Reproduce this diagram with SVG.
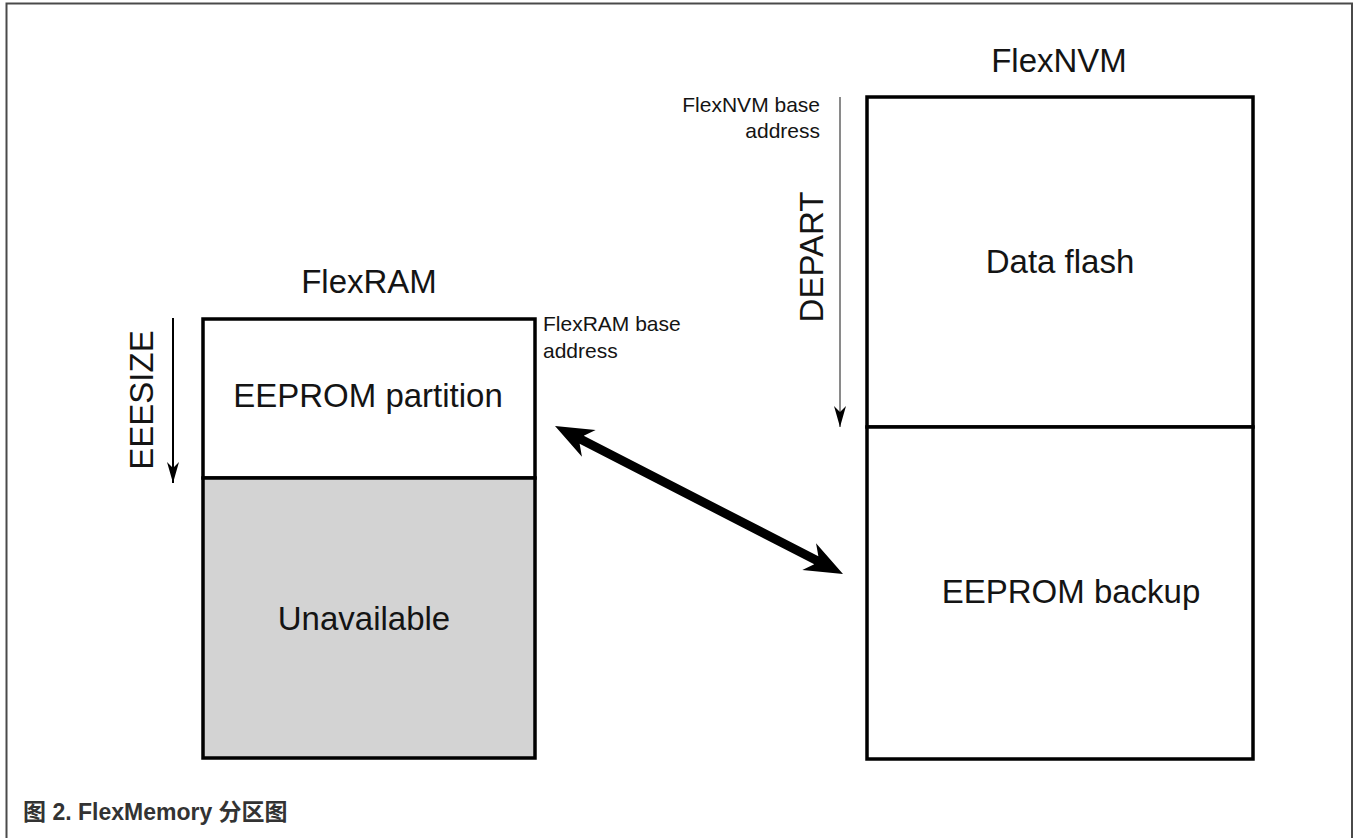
<svg xmlns="http://www.w3.org/2000/svg" width="1354" height="838" viewBox="0 0 1354 838">
  <style>
    .box { fill: #ffffff; stroke: #000000; stroke-width: 3.5; }
    .grey { fill: #d3d3d3; }
    .big { font-family: "Liberation Sans", Arial, sans-serif; font-size: 33px; fill: #141414; }
    .small { font-family: "Liberation Sans", Arial, sans-serif; font-size: 21px; fill: #141414; }
    .caption { font-family: "Liberation Sans", "Noto Sans CJK SC", sans-serif; font-size: 23px; font-weight: bold; fill: #333333; }
    .thin { stroke-width: 2; fill: none; }
  </style>
  <defs>
    <!-- slim notched arrowhead, tip at the line end -->
    <marker id="thinHead" viewBox="-22 -7 23 14" refX="0" refY="0" markerWidth="23" markerHeight="14" markerUnits="userSpaceOnUse" orient="auto">
      <path d="M0,0 L-21,-6 L-15,0 L-21,6 Z" fill="#000000"/>
    </marker>
  </defs>

  <rect width="1354" height="838" fill="#ffffff"/>

  <!-- figure frame (open at the bottom) -->
  <path d="M6.5,840 V3.5 H1352 V840" fill="none" stroke="#4a4a4a" stroke-width="2"/>

  <!-- FlexRAM column -->
  <g id="flexram">
    <text class="big" x="369" y="293" text-anchor="middle">FlexRAM</text>
    <text class="small" x="543" y="331">FlexRAM base</text>
    <text class="small" x="543" y="358">address</text>
    <text class="big" transform="translate(153,400) rotate(-90)" text-anchor="middle">EEESIZE</text>
  </g>
  <g id="eeprom-partition">
    <rect class="box" x="203" y="319" width="332" height="159"/>
    <text class="big" x="368" y="407" text-anchor="middle">EEPROM partition</text>
  </g>
  <g id="unavailable">
    <rect class="box grey" x="203" y="478" width="332" height="280"/>
    <text class="big" x="364" y="630" text-anchor="middle">Unavailable</text>
  </g>

  <!-- FlexNVM column -->
  <g id="flexnvm">
    <text class="big" x="1059" y="72" text-anchor="middle">FlexNVM</text>
    <text class="small" x="820" y="112" text-anchor="end">FlexNVM base</text>
    <text class="small" x="820" y="138" text-anchor="end">address</text>
    <text class="big" transform="translate(823,257) rotate(-90)" text-anchor="middle">DEPART</text>
  </g>
  <g id="data-flash">
    <rect class="box" x="867" y="97" width="386" height="330"/>
    <text class="big" x="1060" y="273" text-anchor="middle">Data flash</text>
  </g>
  <g id="eeprom-backup">
    <rect class="box" x="867" y="427" width="386" height="332"/>
    <text class="big" x="1071" y="603" text-anchor="middle">EEPROM backup</text>
  </g>

  <!-- connectors -->
  <g id="connectors">
    <!-- size extents -->
    <line class="thin" x1="173" y1="318" x2="173" y2="483" stroke="#000000" marker-end="url(#thinHead)"/>
    <line class="thin" x1="840" y1="97" x2="840" y2="427" stroke="#8a8a8a" marker-end="url(#thinHead)"/>
    <!-- EEPROM partition <-> EEPROM backup -->
    <path transform="translate(555,426) rotate(27.2)" fill="#000000"
          d="M0,0 L38,-15 L30,-4.5 L293.8,-4.5 L285.8,-15 L323.8,0 L285.8,15 L293.8,4.5 L30,4.5 L38,15 Z"/>
  </g>

  <!-- caption -->
  <text class="caption" x="23" y="820">图 2. FlexMemory 分区图</text>
</svg>
